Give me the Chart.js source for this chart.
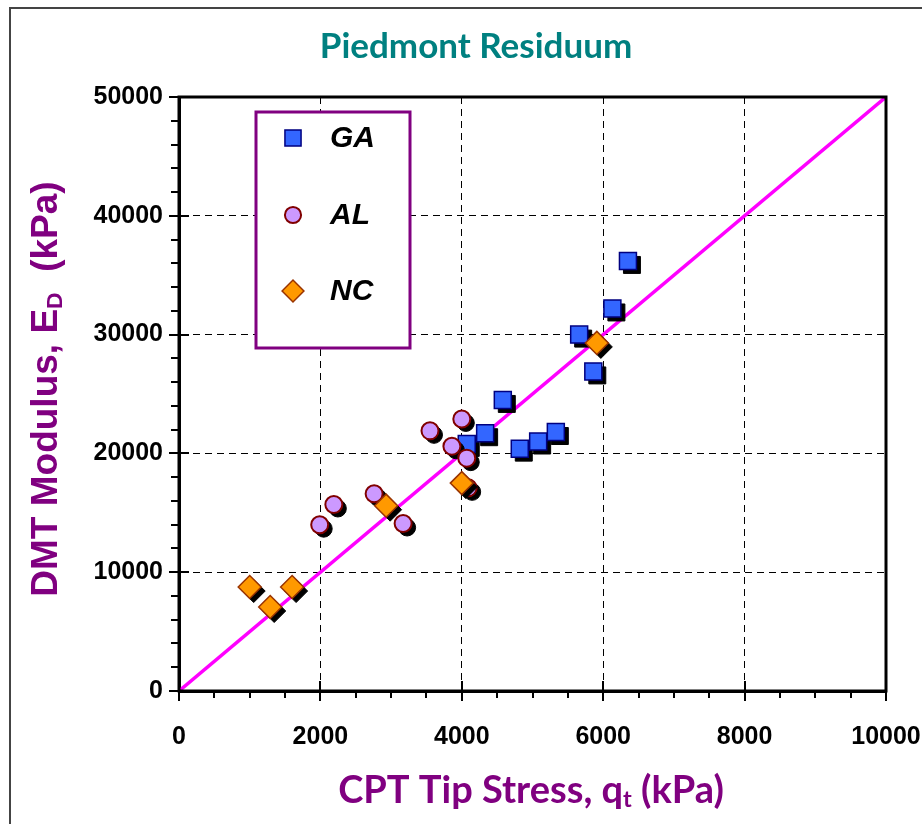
<!DOCTYPE html>
<html>
<head>
<title>Piedmont Residuum</title>
<script src="https://cdn.jsdelivr.net/npm/chart.js"></script>
<style>
  body { margin: 0; background: #fff; }
  canvas { display: block; }
</style>
</head>
<body>
<canvas id="chart" width="922" height="824"></canvas>
<script>
// CPT tip stress qt (kPa) against DMT modulus ED (kPa), three sites
const gaX = [6350, 6130, 5660, 5860, 4580, 4330, 4070, 4820, 5080, 5330];
const gaY = [36200, 32200, 30000, 26900, 24500, 21700, 20800, 20400, 21000, 21800];
const alX = [4000, 3550, 3860, 4070, 4090, 2190, 1990, 2760, 3170];
const alY = [22900, 21900, 20600, 19600, 17100, 15700, 14000, 16600, 14100];
const ncX = [1000, 1290, 1600, 2930, 4000, 5910];
const ncY = [8750, 7070, 8750, 15600, 17500, 29300];
// ED = 5 qt reference line
const lineX = [0, 10000];
const lineY = [0, 50000];
const xTicks = [0, 2000, 4000, 6000, 8000, 10000];
const yTicks = [0, 10000, 20000, 30000, 40000, 50000];

const pts = (xs, ys) => xs.map((x, i) => ({ x: x, y: ys[i] }));

const comic = "Lato, 'Open Sans', sans-serif";
const arial = "Arial, 'Liberation Sans', sans-serif";

// text with one subscript part, centred on (0,0)
function subText(c, parts, size, family) {
    let widths = parts.map(p => {
        c.font = 'bold ' + (p[1] ? size * 0.62 : size) + 'px ' + family;
        return c.measureText(p[0]).width;
    });
    let total = widths.reduce((a, b) => a + b, 0);
    let x = -total / 2;
    c.textBaseline = 'alphabetic';
    c.textAlign = 'left';
    parts.forEach((p, i) => {
        c.font = 'bold ' + (p[1] ? size * 0.62 : size) + 'px ' + family;
        c.fillText(p[0], x, size * 0.36 + (p[1] ? size * 0.12 : 0));
        x += widths[i];
    });
}

const extras = {
    id: 'extras',
    beforeDraw(chart) {
        const c = chart.ctx;
        c.save();
        c.fillStyle = '#fff';
        c.fillRect(0, 0, chart.width, chart.height);
        c.strokeStyle = '#444';
        c.lineWidth = 2;
        c.beginPath();
        c.moveTo(10, chart.height);
        c.lineTo(10, 8);
        c.lineTo(chart.width, 8);
        c.stroke();
        c.restore();
    },
    // black drop shadow under each marker
    beforeDatasetDraw(chart, args) {
        const ds = chart.data.datasets[args.index];
        if (ds.showLine) return;
        const c = chart.ctx;
        c.save();
        c.fillStyle = '#000';
        c.strokeStyle = '#000';
        args.meta.data.forEach(pt => {
            const o = pt.options;
            Chart.helpers.drawPoint(c, { pointStyle: o.pointStyle, rotation: o.rotation, radius: o.radius, borderWidth: o.borderWidth }, pt.x + 4, pt.y + 4);
        });
        c.restore();
    },
    afterDraw(chart) {
        const c = chart.ctx;
        const a = chart.chartArea;
        const xs = chart.scales.x, ys = chart.scales.y;
        c.save();
        // plot frame
        c.strokeStyle = '#000';
        c.lineWidth = 3;
        c.strokeRect(a.left, a.top, a.right - a.left, a.bottom - a.top);
        // tick marks
        c.lineWidth = 2;
        c.beginPath();
        for (let v = 0; v <= 10000; v += 500) {
            let px = Math.round(xs.getPixelForValue(v));
            let major = xTicks.includes(v);
            c.moveTo(px, a.bottom - (major ? 10 : 0));
            c.lineTo(px, a.bottom + (major ? 10 : 7));
        }
        for (let v = 0; v <= 50000; v += 2000) {
            let py = Math.round(ys.getPixelForValue(v));
            let major = yTicks.includes(v);
            c.moveTo(a.left - (major ? 10 : 8), py);
            c.lineTo(a.left + (major ? 10 : 0), py);
        }
        c.stroke();

        // chart title
        c.fillStyle = '#008080';
        c.font = 'bold 35px ' + comic;
        c.textAlign = 'center';
        c.textBaseline = 'middle';
        c.fillText('Piedmont Residuum', 476, 47);

        // axis titles
        c.fillStyle = '#800080';
        c.save();
        c.translate(531, 789);
        subText(c, [['CPT Tip Stress, q', false], ['t', true], [' (kPa)', false]], 38, comic);
        c.restore();
        c.save();
        c.translate(44, 389);
        c.rotate(-Math.PI / 2);
        subText(c, [['DMT Modulus, E', false], ['D', true], ['  (kPa)', false]], 37, arial);
        c.restore();

        // legend box
        c.fillStyle = '#fff';
        c.fillRect(256, 112, 154, 236);
        c.strokeStyle = '#800080';
        c.lineWidth = 3;
        c.strokeRect(256, 112, 154, 236);
        const rows = [138, 215, 291];
        chart.data.datasets.forEach((ds, i) => {
            if (ds.showLine) return;
            const el = chart.getDatasetMeta(i).data[0];
            const o = el.options;
            c.fillStyle = o.backgroundColor;
            c.strokeStyle = o.borderColor;
            c.lineWidth = o.borderWidth;
            Chart.helpers.drawPoint(c, { pointStyle: o.pointStyle, rotation: o.rotation, radius: o.radius * 0.95, borderWidth: o.borderWidth }, 293, rows[i]);
            c.fillStyle = '#000';
            c.font = 'italic bold 30px ' + arial;
            c.textAlign = 'left';
            c.textBaseline = 'middle';
            c.fillText(ds.label, 330, rows[i] + 1);
        });
        c.restore();
    }
};

const tickFont = { family: arial, size: 25, weight: 'bold' };

new Chart(document.getElementById('chart'), {
    type: 'scatter',
    data: {
        datasets: [
            { label: 'GA', data: pts(gaX, gaY), pointStyle: 'rect', pointRadius: 12, pointHoverRadius: 12,
              backgroundColor: '#3366ff', borderColor: '#000080', borderWidth: 1.5, order: 2 },
            { label: 'AL', data: pts(alX, alY), pointStyle: 'circle', pointRadius: 8.5, pointHoverRadius: 8.5,
              backgroundColor: '#cc99ff', borderColor: '#800000', borderWidth: 2, order: 1 },
            { label: 'NC', data: pts(ncX, ncY), pointStyle: 'rectRot', pointRadius: 11.5, pointHoverRadius: 11.5,
              backgroundColor: '#ff9900', borderColor: '#993300', borderWidth: 1.5, order: 0 },
            { label: '1:5', data: pts(lineX, lineY), showLine: true, pointRadius: 0,
              borderColor: '#ff00ff', borderWidth: 3.5, order: 10 }
        ]
    },
    options: {
        responsive: false,
        animation: false,
        devicePixelRatio: 1,
        layout: { padding: { left: 0, right: 36, top: 97, bottom: 0 } },
        plugins: {
            legend: { display: false },
            tooltip: { enabled: false },
            title: { display: false }
        },
        scales: {
            x: {
                type: 'linear', min: 0, max: 10000,
                ticks: { stepSize: 500, autoSkip: false, maxRotation: 0, padding: 31, color: '#000', font: tickFont,
                         callback: v => xTicks.includes(v) ? v : '' },
                grid: { color: c => xTicks.includes(c.tick.value) ? '#000' : 'rgba(0,0,0,0)', lineWidth: 1, drawTicks: false },
                border: { color: '#000', width: 3, dash: [7, 5] },
                afterFit: s => { s.height = 133; s.paddingRight = 0; }
            },
            y: {
                type: 'linear', min: 0, max: 50000,
                ticks: { stepSize: 2000, autoSkip: false, padding: 16, color: '#000', font: tickFont,
                         callback: v => yTicks.includes(v) ? v : '' },
                grid: { color: c => yTicks.includes(c.tick.value) ? '#000' : 'rgba(0,0,0,0)', lineWidth: 1, drawTicks: false },
                border: { color: '#000', width: 3, dash: [7, 5] },
                afterFit: s => { s.width = 179; }
            }
        }
    },
    plugins: [extras]
});
</script>
</body>
</html>
